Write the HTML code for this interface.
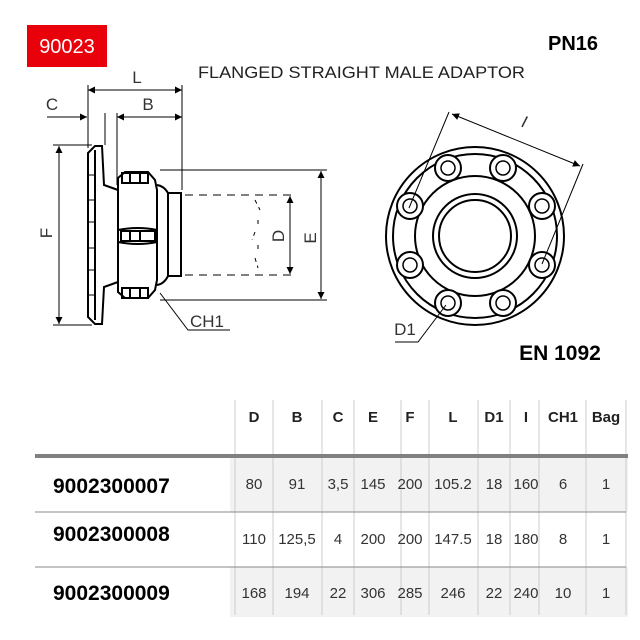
<!DOCTYPE html>
<html><head><meta charset="utf-8"><style>
body{margin:0;background:#fff;width:640px;height:640px;overflow:hidden;position:relative;font-family:"Liberation Sans",sans-serif}
svg{position:absolute;left:0;top:0}
</style></head><body>
<svg width="640" height="640" viewBox="0 0 640 640" xmlns="http://www.w3.org/2000/svg">
<defs>
<marker id="a" viewBox="0 0 10 10" refX="10" refY="5" markerWidth="10" markerHeight="7" orient="auto-start-reverse" markerUnits="userSpaceOnUse"><path d="M0,0L10,5L0,10z" fill="#000"/></marker>
</defs>
<rect x="27" y="25" width="80" height="42" fill="#e8000b"/>
<text x="67" y="53" font-size="20" fill="#fff" text-anchor="middle">90023</text>
<text x="198" y="78" font-size="17" fill="#222" textLength="327" lengthAdjust="spacingAndGlyphs">FLANGED STRAIGHT MALE ADAPTOR</text>
<text x="573" y="50" font-size="20" font-weight="bold" text-anchor="middle">PN16</text>
<text x="560" y="360" font-size="21" font-weight="bold" text-anchor="middle">EN 1092</text>

<g stroke="#000" stroke-width="1" fill="none">
<line x1="88" y1="85" x2="88" y2="148"/><line x1="182" y1="85" x2="182" y2="190"/>
<line x1="105" y1="113" x2="105" y2="145"/><line x1="117" y1="113" x2="117" y2="185"/>
<line x1="88" y1="90" x2="182" y2="90" marker-start="url(#a)" marker-end="url(#a)"/>
<line x1="117" y1="117" x2="182" y2="117" marker-start="url(#a)" marker-end="url(#a)"/>
<line x1="47" y1="117" x2="87" y2="117" marker-end="url(#a)"/>
<line x1="53" y1="145" x2="92" y2="145"/><line x1="53" y1="325" x2="92" y2="325"/>
<line x1="59" y1="146" x2="59" y2="324" marker-start="url(#a)" marker-end="url(#a)"/>
<line x1="160" y1="170" x2="327" y2="170"/><line x1="160" y1="300" x2="327" y2="300"/>
<line x1="321" y1="171" x2="321" y2="299" marker-start="url(#a)" marker-end="url(#a)"/>
<line x1="185" y1="195" x2="296" y2="195" stroke-dasharray="8,6"/><line x1="185" y1="275" x2="296" y2="275" stroke-dasharray="8,6"/>
<line x1="290" y1="196" x2="290" y2="274" marker-start="url(#a)" marker-end="url(#a)"/>
<path d="M255,200 L260,210 M258,220 L258,228 M255,232 L252,240 M258,245 L258,252 M255,258 L258,268" stroke-dasharray="4,4"/>
<path d="M160,293 L188,330 L230,330"/>
<g stroke-width="2">
<path d="M88,153 L95,146 L102,146 L104,185 L118,190 L118,282 L104,287 L102,324 L95,324 L88,317 Z"/>
<line x1="95" y1="150" x2="95" y2="320"/>
<path d="M118,178 L125,172 L148,172 L155,180 L157,190 L157,280 L155,290 L148,298 L125,298 L118,292 Z"/>
<path d="M118,230 Q138,226 157,230 M118,242 Q138,246 157,242"/>
<path d="M157,185 Q164,186 168,193 L181,193 L181,276 L168,276 Q164,284 157,285"/>
<line x1="168" y1="193" x2="168" y2="276"/>
<rect x="122" y="173" width="26" height="10"/><rect x="122" y="288" width="26" height="10"/><rect x="121" y="231" width="34" height="10"/>
<line x1="130" y1="173" x2="130" y2="183"/><line x1="140" y1="173" x2="140" y2="183"/><line x1="130" y1="288" x2="130" y2="298"/><line x1="140" y1="288" x2="140" y2="298"/>
<line x1="130" y1="231" x2="130" y2="241"/><line x1="140" y1="231" x2="140" y2="241"/>
</g>
<line x1="88" y1="175" x2="95" y2="175"/><line x1="88" y1="200" x2="95" y2="200"/><line x1="88" y1="222" x2="95" y2="222"/><line x1="88" y1="248" x2="95" y2="248"/><line x1="88" y1="270" x2="95" y2="270"/><line x1="88" y1="295" x2="95" y2="295"/>
</g>
<g font-size="17" fill="#333" text-anchor="middle">
<text x="137" y="83">L</text><text x="148" y="110">B</text><text x="52" y="110">C</text>
<text x="207" y="327">CH1</text>
<text transform="translate(52,233) rotate(-90)">F</text>
<text transform="translate(284,236) rotate(-90)">D</text>
<text transform="translate(316,238) rotate(-90)">E</text>
<text x="405" y="335">D1</text>
<text transform="translate(522,127) rotate(27)">I</text>
</g>

<g stroke="#000" fill="none">
<g stroke-width="2">
<circle cx="475" cy="236" r="89"/><circle cx="475" cy="236" r="82"/>
<circle cx="475" cy="236" r="60"/>
<circle cx="475" cy="236" r="42"/><circle cx="475" cy="236" r="36"/>
</g>
<g stroke-width="2" fill="#fff">
<circle cx="448" cy="168" r="13"/><circle cx="503" cy="168" r="13"/>
<circle cx="410" cy="206" r="13"/><circle cx="542" cy="206" r="13"/>
<circle cx="410" cy="265" r="13"/><circle cx="542" cy="265" r="13"/>
<circle cx="448" cy="303" r="13"/><circle cx="503" cy="303" r="13"/>
</g>
<g stroke-width="1.5">
<circle cx="448" cy="168" r="7"/><circle cx="503" cy="168" r="7"/>
<circle cx="410" cy="206" r="7"/><circle cx="542" cy="206" r="7"/>
<circle cx="410" cy="265" r="7"/><circle cx="542" cy="265" r="7"/>
<circle cx="448" cy="303" r="7"/><circle cx="503" cy="303" r="7"/>
</g>
<line x1="449" y1="112" x2="409" y2="208"/><line x1="583" y1="164" x2="542" y2="264"/>
<line x1="452" y1="114" x2="580" y2="166" marker-start="url(#a)" marker-end="url(#a)"/>
<path d="M395,342 L418,342 L446,305"/>
</g>

<rect x="230" y="457" width="398" height="55" fill="#f2f2f2"/>
<rect x="230" y="567" width="398" height="50" fill="#f2f2f2"/>
<g stroke="#ccc" stroke-width="1">
<line x1="235" y1="400" x2="235" y2="615"/><line x1="273" y1="400" x2="273" y2="615"/><line x1="322" y1="400" x2="322" y2="615"/><line x1="354" y1="400" x2="354" y2="615"/><line x1="401" y1="400" x2="401" y2="615"/><line x1="429" y1="400" x2="429" y2="615"/><line x1="478" y1="400" x2="478" y2="615"/><line x1="510" y1="400" x2="510" y2="615"/><line x1="539" y1="400" x2="539" y2="615"/><line x1="586" y1="400" x2="586" y2="615"/><line x1="626" y1="400" x2="626" y2="615"/>
</g>
<line x1="35" y1="456" x2="628" y2="456" stroke="#808080" stroke-width="4"/>
<line x1="35" y1="512" x2="626" y2="512" stroke="#888"/>
<line x1="35" y1="567" x2="626" y2="567" stroke="#888"/>
<g font-size="21" font-weight="bold">
<text x="53" y="493">9002300007</text><text x="53" y="541">9002300008</text><text x="53" y="600">9002300009</text>
</g>
<g font-size="15" font-weight="bold" text-anchor="middle" fill="#222">
<text x="254" y="422">D</text><text x="297" y="422">B</text><text x="338" y="422">C</text><text x="373" y="422">E</text><text x="410" y="422">F</text><text x="453" y="422">L</text><text x="494" y="422">D1</text><text x="526" y="422">I</text><text x="563" y="422">CH1</text><text x="606" y="422">Bag</text>
</g>
<g font-size="15" text-anchor="middle" fill="#333">
<text x="254" y="489">80</text><text x="297" y="489">91</text><text x="338" y="489">3,5</text><text x="373" y="489">145</text><text x="410" y="489">200</text><text x="453" y="489">105.2</text><text x="494" y="489">18</text><text x="526" y="489">160</text><text x="563" y="489">6</text><text x="606" y="489">1</text>
<text x="254" y="544">110</text><text x="297" y="544">125,5</text><text x="338" y="544">4</text><text x="373" y="544">200</text><text x="410" y="544">200</text><text x="453" y="544">147.5</text><text x="494" y="544">18</text><text x="526" y="544">180</text><text x="563" y="544">8</text><text x="606" y="544">1</text>
<text x="254" y="598">168</text><text x="297" y="598">194</text><text x="338" y="598">22</text><text x="373" y="598">306</text><text x="410" y="598">285</text><text x="453" y="598">246</text><text x="494" y="598">22</text><text x="526" y="598">240</text><text x="563" y="598">10</text><text x="606" y="598">1</text>
</g>
</svg>
</body></html>
